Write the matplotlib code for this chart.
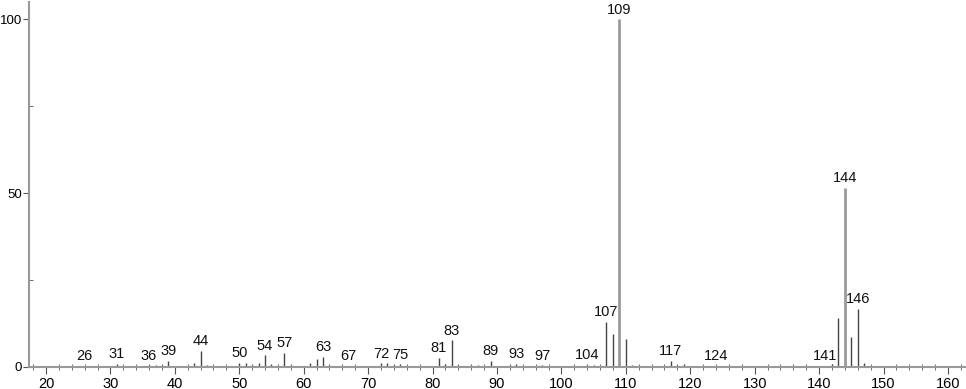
import matplotlib
matplotlib.use("Agg")
import matplotlib.pyplot as plt
from matplotlib.ticker import MultipleLocator

plt.rcParams['font.family'] = ['Liberation Sans', 'DejaVu Sans']

# m/z and relative intensity
mz = [26, 27, 29, 31, 32, 36, 37, 38, 39, 42, 43, 44, 45, 49, 50, 51, 52, 53, 54, 55,
      56, 57, 58, 60, 61, 62, 63, 64, 67, 68, 69, 72, 73, 74, 75, 76, 79, 81, 82, 83,
      84, 86, 87, 89, 91, 92, 93, 95, 97, 99, 104, 105, 106, 107, 108, 109, 110, 111,
      116, 117, 118, 119, 124, 141, 142, 143, 144, 145, 146, 147]
intensity = [0.3, 0.3, 0.2, 0.8, 0.3, 0.4, 0.4, 0.6, 1.6, 0.3, 1.2, 4.6, 0.4, 0.3, 1.2, 1.2,
             0.5, 1.0, 3.3, 0.7, 0.3, 3.9, 0.4, 0.3, 1.0, 2.2, 2.8, 0.4, 0.3, 0.3, 0.3,
             1.0, 1.0, 0.5, 0.7, 0.3, 0.3, 2.6, 0.8, 7.6, 0.5, 0.4, 0.4, 1.7, 0.3, 0.4,
             0.8, 0.3, 0.4, 0.2, 0.5, 0.6, 0.3, 13.0, 9.5, 100.0, 8.1, 0.5, 0.3, 1.7,
             0.4, 0.8, 0.3, 0.3, 0.8, 14.1, 51.6, 8.6, 16.7, 1.0]
labelled = [26, 31, 36, 39, 44, 50, 54, 57, 63, 67, 72, 75, 81, 83, 89, 93, 97, 104,
            107, 109, 117, 124, 141, 144, 146]
gray_peaks = [109, 144]

fig = plt.figure(figsize=(9.66, 3.89), dpi=100)
ax = fig.add_axes([0.030, 0.057, 0.970, 0.938])

for m, h in zip(mz, intensity):
    if m in gray_peaks:
        ax.vlines(m, 0, h, color="#9a9a9a", lw=2.0)
    else:
        ax.vlines(m, 0, h, color="#444444", lw=1.0)

for m in labelled:
    h = intensity[mz.index(m)]
    ax.text(m, h + 0.8, str(m), ha="center", va="bottom", fontsize=10.5, color="#111111")

ax.set_xlim(17.36, 162.8)
ax.set_ylim(0, 105)
ax.xaxis.set_major_locator(MultipleLocator(10))
ax.xaxis.set_minor_locator(MultipleLocator(2))
ax.set_yticks([0, 50, 100])
ax.yaxis.set_minor_locator(MultipleLocator(25))

for s in ["top", "right"]:
    ax.spines[s].set_visible(False)
for s in ["left", "bottom"]:
    ax.spines[s].set_color("#999999")
    ax.spines[s].set_linewidth(1.5)

ax.tick_params(axis="x", which="major", direction="out", length=5, color="#555555",
               labelsize=10.5, pad=2)
ax.tick_params(axis="y", which="major", direction="out", length=4, color="#555555",
               labelsize=9.5, pad=1)
ax.tick_params(axis="x", which="minor", direction="inout", length=4, color="#555555")
ax.tick_params(axis="y", which="minor", direction="in", length=3, color="#555555")

fig.savefig("out.png", dpi=100)
